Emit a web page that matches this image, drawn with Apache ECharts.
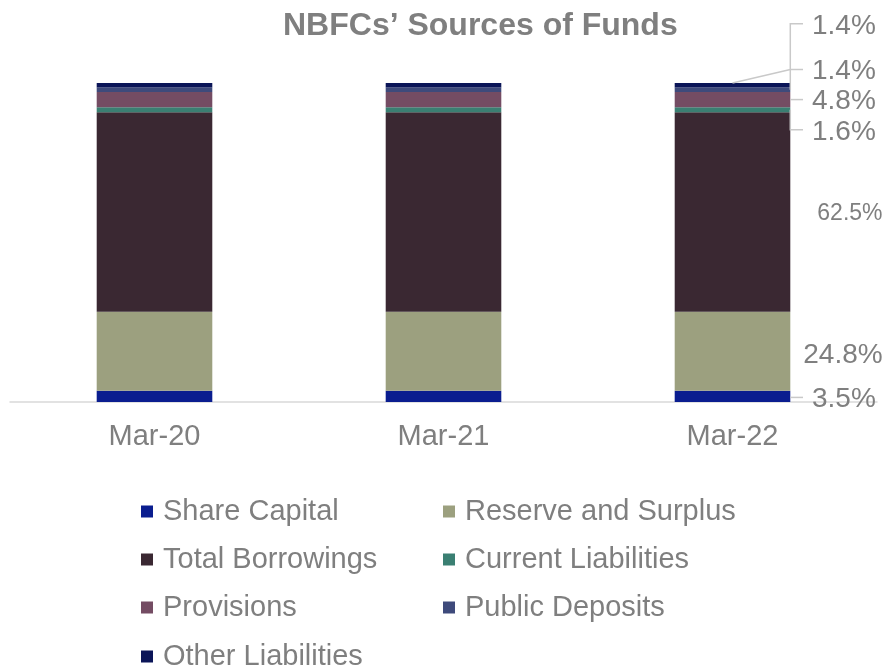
<!DOCTYPE html>
<html>
<head>
<meta charset="utf-8">
<title>NBFCs’ Sources of Funds</title>
<script src="https://cdn.jsdelivr.net/npm/echarts@6/dist/echarts.min.js"></script>
<style>
  html, body { margin: 0; padding: 0; background: #fff; }
  #chart { width: 889px; height: 668px; }
</style>
</head>
<body>
<div id="chart"></div>
<script>
// Share of each source in total funds (%), by year-end
const categories = ['Mar-20', 'Mar-21', 'Mar-22'];
const shareCapital       = [3.5, 3.5, 3.5];
const reserveAndSurplus  = [24.8, 24.8, 24.8];
const totalBorrowings    = [62.5, 62.5, 62.5];
const currentLiabilities = [1.6, 1.6, 1.6];
const provisions         = [4.8, 4.8, 4.8];
const publicDeposits     = [1.4, 1.4, 1.4];
const otherLiabilities   = [1.4, 1.4, 1.4];

const seriesNames = ['Share Capital', 'Reserve and Surplus', 'Total Borrowings',
  'Current Liabilities', 'Provisions', 'Public Deposits', 'Other Liabilities'];
const seriesValues = [shareCapital, reserveAndSurplus, totalBorrowings,
  currentLiabilities, provisions, publicDeposits, otherLiabilities];
const seriesColors = ['#0a1d8f', '#9ca07f', '#3a2832', '#3a7f72', '#744c63', '#3e4a7b', '#0b1558'];

// Callout placement for the value labels beside the last bar
const calloutPlacement = [
  { kind: 'flat', dy: 1 },
  { kind: 'none', dy: 2.5, gap: 13 },
  { kind: 'none', dy: 0, gap: 27, size: 23 },
  { kind: 'elbow', dy: 20 },
  { kind: 'flat', dy: 0 },
  { kind: 'elbow', dy: -66, textDy: 1 },
  { kind: 'diag', dy: -13.4 }
];

const FONT = '"Liberation Sans", Arial, sans-serif';
const GREY = '#7f7f7f';
const BAR_RATIO = 0.4;
const labelCat = categories.length - 1;

const chart = echarts.init(document.getElementById('chart'), null, { renderer: 'canvas' });

// Stacked extents of each segment of the annotated bar
const calloutData = [];
let cum = 0;
seriesValues.forEach((vals, k) => {
  const v = vals[labelCat];
  calloutData.push([labelCat, cum, cum + v, v, k]);
  cum += v;
});

function renderCallout(params, api) {
  const cat = api.value(0);
  const lo = api.value(1), hi = api.value(2), v = api.value(3), k = api.value(4);
  const pLo = api.coord([cat, lo]);
  const pHi = api.coord([cat, hi]);
  const half = api.size([1, 0])[0] * BAR_RATIO / 2;
  const cx = pLo[0];
  const right = cx + half;
  const top = pHi[1];
  const cy = (pLo[1] + pHi[1]) / 2;
  const spec = calloutPlacement[k];
  const tick = 12.7, textGap = 21.7;
  const children = [];
  let tx, ty, pts = null;
  if (spec.kind === 'none') {
    tx = right + spec.gap; ty = cy + spec.dy;
  } else if (spec.kind === 'flat') {
    ty = cy + spec.dy; tx = right + textGap;
    pts = [[right, ty], [right + tick, ty]];
  } else if (spec.kind === 'elbow') {
    ty = cy + spec.dy; tx = right + textGap;
    pts = [[right, cy], [right, ty], [right + tick, ty]];
  } else {
    ty = top + spec.dy; tx = right + textGap;
    pts = [[cx, top], [right, ty], [right + tick, ty]];
  }
  if (pts) {
    children.push({
      type: 'polyline',
      shape: { points: pts },
      style: { stroke: '#c9c9c9', lineWidth: 1.5, fill: null }
    });
  }
  children.push({
    type: 'text',
    style: {
      text: v.toFixed(1) + '%',
      x: tx, y: ty + 2 + (spec.textDy || 0),
      fill: GREY,
      fontSize: spec.size || 28,
      fontFamily: FONT,
      align: 'left',
      verticalAlign: 'middle'
    }
  });
  return { type: 'group', children };
}

const barSeries = seriesNames.map((name, k) => ({
  name,
  type: 'bar',
  stack: 'funds',
  barWidth: (BAR_RATIO * 100) + '%',
  itemStyle: { color: seriesColors[k] },
  data: seriesValues[k]
}));

// Legend grid: two columns, four rows, filled row by row
const legendColumnsLeft = [141, 443];
const legendRowsCenter = [511, 559, 607, 656];
const legends = seriesNames.map((name, k) => ({
  data: [name],
  left: legendColumnsLeft[k % 2],
  top: legendRowsCenter[Math.floor(k / 2)] - 14,
  padding: 0,
  itemWidth: 12,
  itemHeight: 12,
  icon: 'rect',
  selectedMode: false,
  textStyle: { color: GREY, fontSize: 29, fontFamily: FONT, padding: [0, 0, 0, 5] }
}));

chart.setOption({
  animation: false,
  color: seriesColors,
  title: {
    text: 'NBFCs’ Sources of Funds',
    left: 283,
    top: 10,
    padding: 0,
    textStyle: { color: GREY, fontSize: 32, fontWeight: 'bold', fontFamily: FONT }
  },
  legend: legends,
  grid: { left: 10, right: 12, top: 83, bottom: 266, containLabel: false },
  xAxis: {
    type: 'category',
    data: categories,
    axisLine: { lineStyle: { color: '#d9d9d9', width: 1.5 } },
    axisTick: { show: false },
    axisLabel: { color: GREY, fontSize: 29, fontFamily: FONT, margin: 20 }
  },
  yAxis: {
    type: 'value',
    min: 0,
    max: 100,
    show: false,
    splitLine: { show: false }
  },
  series: barSeries.concat([{
    name: 'callouts',
    type: 'custom',
    silent: true,
    z: 5,
    encode: { x: 0, y: [1, 2] },
    renderItem: renderCallout,
    data: calloutData
  }])
});
</script>
</body>
</html>
